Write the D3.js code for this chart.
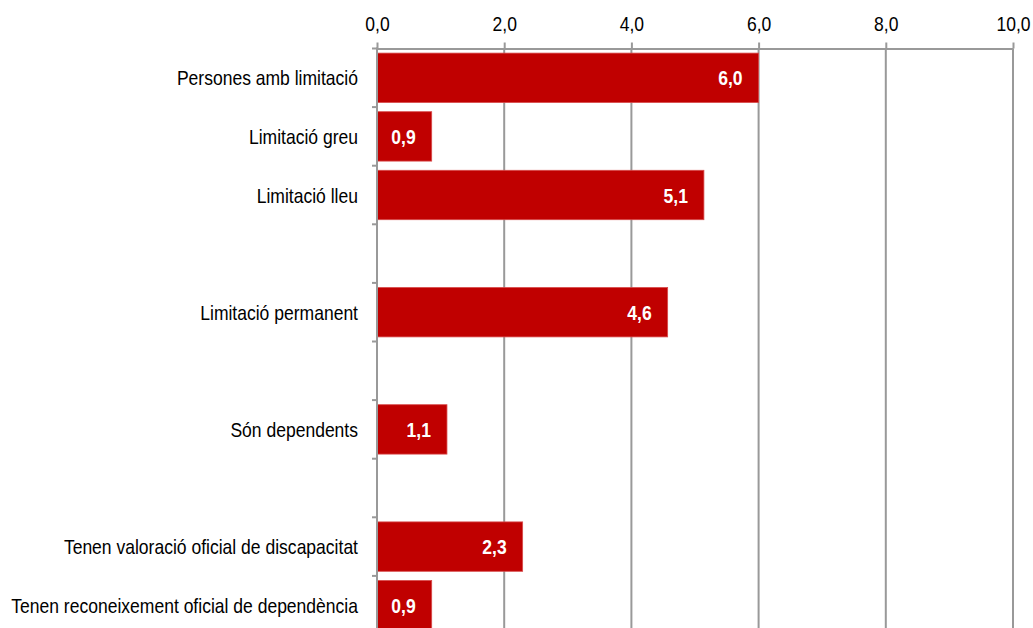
<!DOCTYPE html>
<meta charset="utf-8">
<style>
body { margin: 0; background: #fff; }
text { font-family: "Liberation Sans", Arial, sans-serif; }
</style>
<svg width="1033" height="628"></svg>
<script src="https://d3js.org/d3.v7.min.js"></script>
<script>

var categories = [
  "Persones amb limitació",
  "Limitació greu",
  "Limitació lleu",
  "",
  "Limitació permanent",
  "",
  "Són dependents",
  "",
  "Tenen valoració oficial de discapacitat",
  "Tenen reconeixement oficial de dependència"
];
var values = [6.0, 0.86, 5.14, null, 4.57, null, 1.1, null, 2.29, 0.86];
var ticks = [0, 2, 4, 6, 8, 10];

var svg = d3.select("svg"),
    left = 377, right = 1013, y0 = 48.5, rowStep = 58.6,
    narrow = 0.835; // no Arial Narrow installed: squeeze Liberation Sans

var locale = d3.formatLocale({decimal: ",", thousands: ".", grouping: [3], currency: ["", "€"]}),
    fmt = locale.format(".1f");

var x = d3.scaleLinear()
    .domain([0, 10])
    .range([left, right]);

var y = d3.scaleBand()
    .domain(d3.range(categories.length))
    .range([y0, y0 + rowStep * categories.length])
    .paddingInner(0.157)
    .paddingOuter(0.0785);

var step = y.step();

// gridlines
svg.append("g")
  .selectAll("line")
  .data(ticks.slice(1))
  .join("line")
    .attr("x1", d => x(d)).attr("x2", d => x(d))
    .attr("y1", y0).attr("y2", 628)
    .attr("stroke", "#999").attr("stroke-width", 2);

// bars
var rows = categories.map((c, i) => ({i: i, c: c, v: values[i]}));

svg.append("g")
  .selectAll("rect")
  .data(rows.filter(d => d.v != null))
  .join("rect")
    .attr("x", x(0) + 0.5)
    .attr("y", d => y(d.i))
    .attr("width", d => x(d.v) - x(0) - 0.5)
    .attr("height", y.bandwidth())
    .attr("fill", "#c00000")
    .attr("stroke", "#d84a4a")
    .attr("stroke-width", 0.8);

svg.append("g")
  .selectAll("text")
  .data(rows.filter(d => d.v != null))
  .join("text")
    .attr("transform", d => "translate(" + (x(d.v) - 16) + "," + (y(d.i) + y.bandwidth() / 2) + ") scale(" + narrow + ",1)")
    .attr("dy", "0.36em")
    .attr("text-anchor", "end")
    .attr("fill", "#fff")
    .attr("font-weight", "bold")
    .attr("font-size", 21)
    .text(d => fmt(d.v));

// top axis
var xAxis = svg.append("g")
    .attr("transform", "translate(0," + y0 + ")")
    .call(d3.axisTop(x).tickValues(ticks).tickFormat(fmt).tickSize(6).tickSizeOuter(0).tickPadding(12));
xAxis.select(".domain").attr("stroke", "#999").attr("stroke-width", 2);
xAxis.selectAll(".tick line").attr("stroke", "#999").attr("stroke-width", 2);
xAxis.selectAll("text")
    .attr("font-size", 21).attr("fill", "#000")
    .attr("transform", "scale(" + narrow + ",1)")
    .style("font-family", '"Liberation Sans", Arial, sans-serif');

// left axis with ticks at band boundaries
svg.append("line")
    .attr("x1", left).attr("x2", left)
    .attr("y1", y0 - 1).attr("y2", 628)
    .attr("stroke", "#999").attr("stroke-width", 2);

svg.append("g")
  .selectAll("line")
  .data(d3.range(categories.length + 1))
  .join("line")
    .attr("x1", left - 5).attr("x2", left)
    .attr("y1", d => y0 + d * step).attr("y2", d => y0 + d * step)
    .attr("stroke", "#999").attr("stroke-width", 2);

svg.append("g")
  .selectAll("text")
  .data(rows.filter(d => d.c))
  .join("text")
    .attr("transform", d => "translate(" + (left - 19) + "," + (y(d.i) + y.bandwidth() / 2) + ") scale(" + narrow + ",1)")
    .attr("dy", "0.36em")
    .attr("text-anchor", "end")
    .attr("font-size", 21)
    .attr("fill", "#000")
    .text(d => d.c);

</script>
